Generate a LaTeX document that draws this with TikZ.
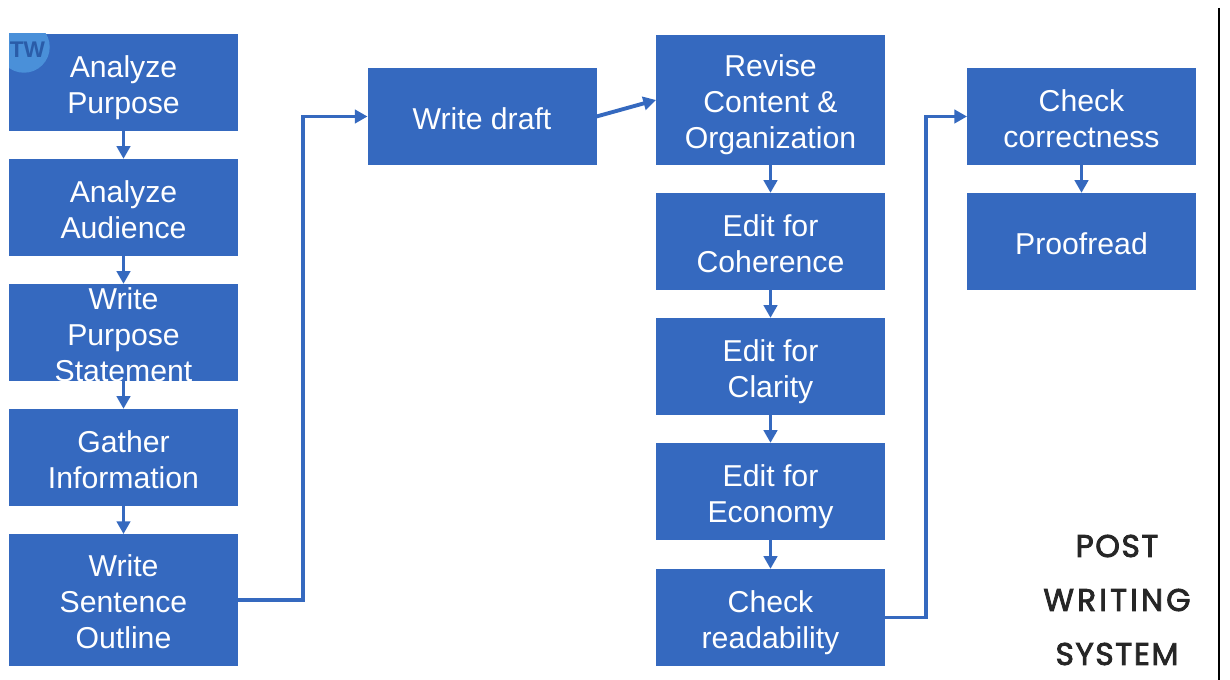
\documentclass[tikz,border=0pt]{standalone}
\usepackage{fontspec}
\setmainfont{Liberation Sans}
\newfontfamily\titlefont[FakeBold=2.6]{Poppins}
\usetikzlibrary{arrows.meta}
\definecolor{boxblue}{HTML}{3569BF}
\definecolor{badgeblue}{HTML}{4A90D9}
\definecolor{badgetext}{HTML}{2A5CA8}
\definecolor{titleink}{HTML}{262626}
\tikzset{
  x=0.75pt,y=-0.75pt,
  flowbox/.style={rectangle,fill=boxblue,draw=none,inner sep=0pt,outer sep=0pt,minimum width=171.75pt},
  h97/.style={flowbox,minimum height=73pt},
  flowtext/.style={text=white,inner sep=0pt,outer sep=0pt,align=center,yshift=-5.4pt,
    font=\fontsize{22.65}{27}\selectfont,
    execute at begin node={\strut},execute at end node={\strut}},
  singletext/.style={flowtext,yshift=1.1pt},
  flowarrow/.style={draw=boxblue,line width=2.9pt,-{Triangle[length=9.5pt,width=10pt]}},
  titletext/.style={text=titleink,inner sep=0pt,font=\titlefont\fontsize{23.5}{27}\selectfont},
}
\begin{document}
\begin{tikzpicture}
\useasboundingbox (0,0) rectangle (1230,680);
\fill[white] (0,0) rectangle (1230,680);
\draw[black,line width=1.5pt] (1219,8) -- (1219,680);
% column 1
\node[h97,label={[flowtext]center:Analyze\\Purpose}] (purpose) at (123.5,82.5) {};
\begin{scope}
  \clip (9,34) rectangle (238,131);
  \fill[badgeblue] (24,47) circle (25.75);
\end{scope}
\node[inner sep=0pt,font=\bfseries\fontsize{17}{20}\selectfont,text=badgetext] (badge) at (27.5,50) {TW};
\node[h97,label={[flowtext]center:Analyze\\Audience}] (audience) at (123.5,207.5) {};
\node[h97,label={[flowtext]center:Write\\Purpose\\Statement}] (statement) at (123.5,332.5) {};
\node[h97,label={[flowtext]center:Gather\\Information}] (gather) at (123.5,457.5) {};
\node[flowbox,minimum height=99pt,label={[flowtext]center:Write\\Sentence\\Outline}] (outline) at (123.5,600) {};
% draft
\node[h97,label={[singletext]center:Write draft}] (draft) at (482,116.5) {};
% column 3
\node[flowbox,minimum height=97.5pt,label={[flowtext]center:Revise\\Content \&\\Organization}] (revise) at (770.5,100) {};
\node[h97,label={[flowtext]center:Edit for\\Coherence}] (coherence) at (770.5,241.5) {};
\node[h97,label={[flowtext]center:Edit for\\Clarity}] (clarity) at (770.5,366.5) {};
\node[h97,label={[flowtext]center:Edit for\\Economy}] (economy) at (770.5,491.5) {};
\node[flowbox,minimum height=73pt,label={[flowtext]center:Check\\readability}] (readability) at (770.5,617.5) {};
% column 4
\node[h97,label={[flowtext]center:Check\\correctness}] (correct) at (1081.5,116.5) {};
\node[h97,label={[singletext]center:Proofread}] (proof) at (1081.5,241.5) {};
% title
\node[titletext] (t1) at (1117,546) {\addfontfeature{LetterSpace=5}POST};
\node[titletext] (t2) at (1117,600) {\addfontfeature{LetterSpace=10}WRITING};
\node[titletext] (t3) at (1117,654) {\addfontfeature{LetterSpace=5}SYSTEM};
% bends
\coordinate (bendA) at (303,300);
\coordinate (bendB) at (926,300);
% connectors
\draw[flowarrow] (purpose) -- (audience);
\draw[flowarrow] (audience) -- (statement);
\draw[flowarrow] (statement) -- (gather);
\draw[flowarrow] (gather) -- (outline);
\draw[flowarrow] (outline.east) -| (bendA) |- (draft.west);
\draw[flowarrow] (draft.east) -- (revise.west);
\draw[flowarrow] (revise) -- (coherence);
\draw[flowarrow] (coherence) -- (clarity);
\draw[flowarrow] (clarity) -- (economy);
\draw[flowarrow] (economy) -- (readability);
\draw[flowarrow] (readability.east) -| (bendB) |- (correct.west);
\draw[flowarrow] (correct) -- (proof);
\end{tikzpicture}
\end{document}
